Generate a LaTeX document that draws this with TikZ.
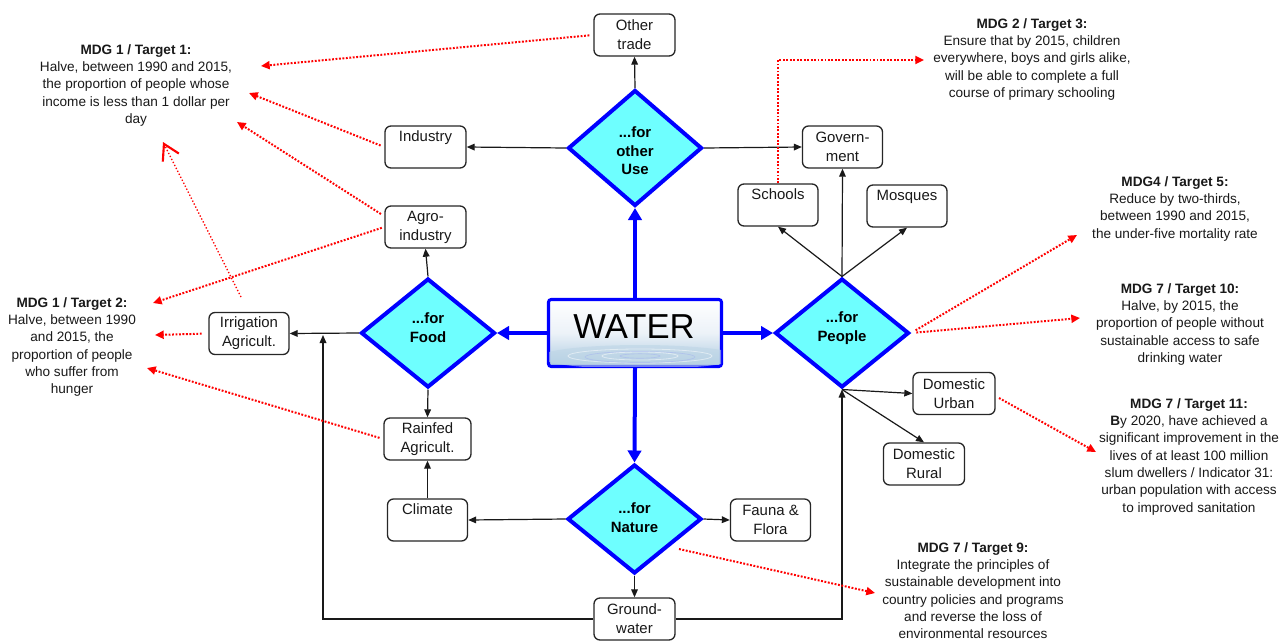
\documentclass[tikz,border=0pt]{standalone}
\usepackage{fontspec}
\setmainfont{Liberation Sans}
\usetikzlibrary{arrows.meta,shapes.geometric,calc}
\definecolor{cyanfill}{RGB}{110,255,255}
\definecolor{pureblue}{RGB}{0,0,255}
\definecolor{purered}{RGB}{255,0,0}
\definecolor{waterlow}{RGB}{172,202,224}
\definecolor{watermid}{RGB}{236,242,248}
\definecolor{txt}{RGB}{25,25,25}
\begin{document}
\begin{tikzpicture}[x=0.75pt,y=-0.75pt,
  boxn/.style={draw=black!85, line width=1pt, rounded corners=4.5pt, fill=white, align=center,
    inner sep=0pt, font=\fontsize{11.2}{14.2}\selectfont, text=txt,
    minimum width=81*0.75pt, minimum height=42*0.75pt},
  dia/.style={diamond, draw=pureblue, line width=3pt, fill=cyanfill, inner sep=0pt,
    minimum width=134*0.75pt, minimum height=109*0.75pt},
  dtext/.style={align=center, inner sep=0pt, font=\fontsize{11.2}{13.9}\selectfont\bfseries},
  mdg/.style={align=center, inner sep=0pt, anchor=north, font=\fontsize{10.2}{13}\selectfont, text=txt},
  bluearr/.style={draw=pureblue, line width=3pt, -{Triangle[length=9pt,width=10pt]}},
  blk/.style={draw=black!90, line width=0.9pt, -{Triangle[length=6pt,width=5pt]}},
  reddot/.style={draw=purered, line width=1.5pt, dash pattern=on 1.4pt off 1.2pt,
    -{Triangle[length=6.5pt,width=6pt]}},
  redthin/.style={draw=purered, line width=1pt, dash pattern=on 1pt off 1.5pt,
    -{Straight Barb[length=11.5pt,width=13.5pt,line width=1.6pt]}}
]
\useasboundingbox (0,0) rectangle (1288,640);

% ---------- WATER ----------
\node[draw=pureblue, line width=2.3pt, rounded corners=2pt, inner sep=0pt,
  minimum width=173*0.75pt, minimum height=67*0.75pt,
  top color=white, bottom color=waterlow, middle color=watermid] (water) at (635,333) {};
\begin{scope}
  \clip (549,300) rectangle (721,366);
  \fill[waterlow!80!white, opacity=0.6] (640,357) ellipse (100 and 12);
  \draw[white, line width=0.6pt, opacity=0.5] (640,356) ellipse (72 and 7);
  \draw[waterlow!70!blue!70!white, line width=0.5pt, opacity=0.5] (640,357) ellipse (55 and 5.5);
  \draw[white, line width=0.6pt, opacity=0.5] (640,356) ellipse (38 and 4);
  \draw[waterlow!70!blue!70!white, line width=0.5pt, opacity=0.5] (640,356) ellipse (20 and 2.2);
\end{scope}
\node[inner sep=0pt, font=\fontsize{26}{26}\selectfont, text=black] (waterT) at (634,327) {WATER};

% ---------- diamonds ----------
\node[dia, minimum height=116*0.75pt] (use) at (635,148) {};
\node[dtext] (useT) at (635,151) {...for\\other\\Use};
\node[dia] (food) at (428,333) {};
\node[dtext] (foodT) at (428,327.5) {...for\\Food};
\node[dia] (people) at (842,333) {};
\node[dtext] (peopleT) at (842,328) {...for\\People};
\node[dia] (nature) at (634.5,519) {};
\node[dtext] (natureT) at (634.5,517.5) {...for\\Nature};

% ---------- boxes ----------
\node[boxn] (other) at (634.5,35) {Other\\trade};
\node[boxn] (industry) at (425.5,147) {Industry\\\phantom{g}};
\node[boxn] (agro) at (425.5,227) {Agro-\\industry};
\node[boxn, minimum width=80*0.75pt] (irr) at (249,333.5) {Irrigation\\Agricult.};
\node[boxn, minimum width=87*0.75pt] (rain) at (427.5,439) {Rainfed\\Agricult.};
\node[boxn, minimum width=80*0.75pt] (climate) at (427.5,520) {Climate\\\phantom{g}};
\node[boxn, minimum width=80*0.75pt] (gov) at (842.5,147) {Govern-\\ment};
\node[boxn, minimum width=80*0.75pt] (schools) at (778,205) {Schools\\\phantom{g}};
\node[boxn, minimum width=80*0.75pt] (mosques) at (907,206) {Mosques\\\phantom{g}};
\node[boxn, minimum width=82*0.75pt] (urban) at (954,393.5) {Domestic\\Urban};
\node[boxn] (rural) at (924,464) {Domestic\\Rural};
\node[boxn, minimum width=80*0.75pt] (fauna) at (770.5,520) {Fauna \&\\Flora};
\node[boxn] (gw) at (634.5,619) {Ground-\\water};

% ---------- MDG texts ----------
\node[mdg] (t1) at (136,44) {\textbf{MDG 1 / Target 1:}\\Halve, between 1990 and 2015,\\the proportion of people whose\\income is less than 1 dollar per\\day};
\node[mdg] (t2) at (72,297) {\textbf{MDG 1 / Target 2:}\\Halve, between 1990\\and 2015, the\\proportion of people\\who suffer from\\hunger};
\node[mdg] (t3) at (1032,18) {\textbf{MDG 2 / Target 3:}\\Ensure that by 2015, children\\everywhere, boys and girls alike,\\will be able to complete a full\\course of primary schooling};
\node[mdg] (t5) at (1175,176) {\textbf{MDG4 / Target 5:}\\Reduce by two-thirds,\\between 1990 and 2015,\\the under-five mortality rate};
\node[mdg] (t10) at (1180,283) {\textbf{MDG 7 / Target 10:}\\Halve, by 2015, the\\proportion of people without\\sustainable access to safe\\drinking water};
\node[mdg] (t11) at (1189,398) {\textbf{MDG 7 / Target 11:}\\\textbf{B}y 2020, have achieved a\\significant improvement in the\\lives of at least 100 million\\slum dwellers / Indicator 31:\\urban population with access\\to improved sanitation};
\node[mdg] (t9) at (973,542) {\textbf{MDG 7 / Target 9:}\\Integrate the principles of\\sustainable development into\\country policies and programs\\and reverse the loss of\\environmental resources};

% ---------- blue arrows ----------
\draw[bluearr] (water.north) -- (use.south);
\draw[bluearr] (water.west) -- (food.east);
\draw[bluearr] (water.east) -- (people.west);
\draw[bluearr] (water.south) -- (nature.north);

% ---------- black arrows ----------
\draw[blk] (use.north) -- (other.south);
\draw[blk] (use.west) -- (industry.east);
\draw[blk] (use.east) -- (gov.west);
\draw[blk] (food.north) -- (agro.south);
\draw[blk] (food.west) -- (irr.east);
\draw[blk] (food.south) -- (rain.north);
\draw[blk] (climate.north) -- (rain.south);
\draw[blk] (nature.west) -- (climate.east);
\draw[blk] (nature.east) -- (fauna.west);
\draw[blk] (nature.south) -- (gw.north);
\coordinate (j1) at (323,335);
\draw[blk] (gw.west) -| (j1);
\draw[blk] (gw.east) -| (people.south);
\draw[blk] (people.north) -- (schools.south);
\draw[blk] (people.north) -- (gov.south);
\draw[blk] (people.north) -- (mosques.south);
\draw[blk] (people.south) -- (urban.west);
\draw[blk] (people.south) -- (rural.north);

% ---------- red dotted arrows ----------
\coordinate (t1a) at (261,66);
\coordinate (t1b) at (249,93);
\coordinate (t1c) at (237,122);
\coordinate (t1v) at (163,142);
\coordinate (sv) at (241,297);
\coordinate (t2a) at (153,303);
\coordinate (t2b) at (155,335);
\coordinate (t2c) at (147,368);
\coordinate (t3a) at (924,60);
\coordinate (t5a) at (1077,235);
\coordinate (t10a) at (1080,318);
\coordinate (s11) at (999,398);
\coordinate (t11a) at (1096,452);
\coordinate (s9) at (679,549);
\coordinate (t9a) at (875,593);
\coordinate (sa) at ($(agro.north west)!0.25!(agro.south west)$);

\draw[reddot, shorten <=3pt] (other.west) -- (t1a);
\draw[reddot, shorten <=3pt] (industry.west) -- (t1b);
\draw[reddot, shorten <=3pt] (sa) -- (t1c);
\draw[reddot, shorten <=2pt] (agro.west) -- (t2a);
\draw[reddot, shorten <=5pt] (irr.west) -- (t2b);
\draw[reddot, shorten <=3pt] (rain.west) -- (t2c);
\draw[redthin] (sv) -- (t1v);
\draw[reddot] (schools.north) |- (t3a);
\draw[reddot, shorten <=4pt] (people.east) -- (t5a);
\draw[reddot, shorten <=4pt] (people.east) -- (t10a);
\draw[reddot] (s11) -- (t11a);
\draw[reddot] (s9) -- (t9a);
\end{tikzpicture}
\end{document}
